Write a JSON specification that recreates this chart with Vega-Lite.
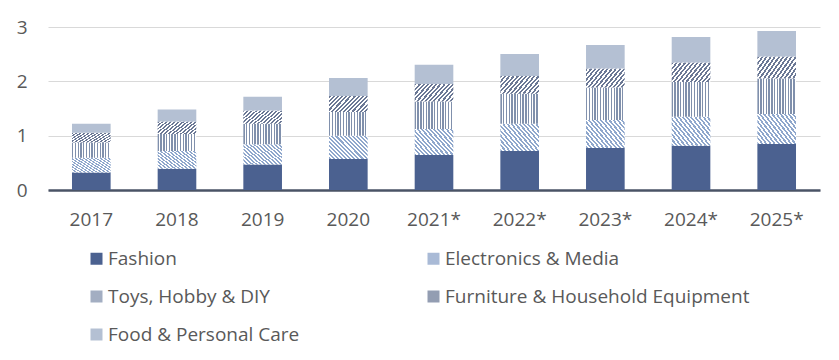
{
  "$schema": "https://vega.github.io/schema/vega-lite/v6.json",
  "autosize": {"type": "none"},
  "width": 772,
  "height": 163,
  "padding": {"left": 48, "top": 27, "right": 19, "bottom": 170},
  "background": "white",
  "config": {
    "view": {"stroke": null},
    "font": "Open Sans",
    "axis": {"labelFont": "Open Sans", "labelFontSize": 19, "labelColor": "#595959", "title": null},
    "legend": {"labelFont": "Open Sans"}
  },
  "datasets": {
    "stackorder": [
      {"category": "Fashion", "rank": 1},
      {"category": "Electronics & Media", "rank": 2},
      {"category": "Toys, Hobby & DIY", "rank": 3},
      {"category": "Furniture & Household Equipment", "rank": 4},
      {"category": "Food & Personal Care", "rank": 5}
    ]
  },
  "data": {
    "values": [
      {"year": "2017", "category": "Fashion", "value": 0.32},
      {"year": "2017", "category": "Electronics & Media", "value": 0.275},
      {"year": "2017", "category": "Toys, Hobby & DIY", "value": 0.28},
      {"year": "2017", "category": "Furniture & Household Equipment", "value": 0.18},
      {"year": "2017", "category": "Food & Personal Care", "value": 0.165},
      {"year": "2018", "category": "Fashion", "value": 0.39},
      {"year": "2018", "category": "Electronics & Media", "value": 0.33},
      {"year": "2018", "category": "Toys, Hobby & DIY", "value": 0.31},
      {"year": "2018", "category": "Furniture & Household Equipment", "value": 0.23},
      {"year": "2018", "category": "Food & Personal Care", "value": 0.22},
      {"year": "2019", "category": "Fashion", "value": 0.47},
      {"year": "2019", "category": "Electronics & Media", "value": 0.37},
      {"year": "2019", "category": "Toys, Hobby & DIY", "value": 0.38},
      {"year": "2019", "category": "Furniture & Household Equipment", "value": 0.245},
      {"year": "2019", "category": "Food & Personal Care", "value": 0.25},
      {"year": "2020", "category": "Fashion", "value": 0.57},
      {"year": "2020", "category": "Electronics & Media", "value": 0.43},
      {"year": "2020", "category": "Toys, Hobby & DIY", "value": 0.435},
      {"year": "2020", "category": "Furniture & Household Equipment", "value": 0.295},
      {"year": "2020", "category": "Food & Personal Care", "value": 0.33},
      {"year": "2021*", "category": "Fashion", "value": 0.645},
      {"year": "2021*", "category": "Electronics & Media", "value": 0.48},
      {"year": "2021*", "category": "Toys, Hobby & DIY", "value": 0.505},
      {"year": "2021*", "category": "Furniture & Household Equipment", "value": 0.32},
      {"year": "2021*", "category": "Food & Personal Care", "value": 0.355},
      {"year": "2022*", "category": "Fashion", "value": 0.72},
      {"year": "2022*", "category": "Electronics & Media", "value": 0.5},
      {"year": "2022*", "category": "Toys, Hobby & DIY", "value": 0.55},
      {"year": "2022*", "category": "Furniture & Household Equipment", "value": 0.33},
      {"year": "2022*", "category": "Food & Personal Care", "value": 0.405},
      {"year": "2023*", "category": "Fashion", "value": 0.775},
      {"year": "2023*", "category": "Electronics & Media", "value": 0.515},
      {"year": "2023*", "category": "Toys, Hobby & DIY", "value": 0.595},
      {"year": "2023*", "category": "Furniture & Household Equipment", "value": 0.35},
      {"year": "2023*", "category": "Food & Personal Care", "value": 0.435},
      {"year": "2024*", "category": "Fashion", "value": 0.815},
      {"year": "2024*", "category": "Electronics & Media", "value": 0.535},
      {"year": "2024*", "category": "Toys, Hobby & DIY", "value": 0.64},
      {"year": "2024*", "category": "Furniture & Household Equipment", "value": 0.355},
      {"year": "2024*", "category": "Food & Personal Care", "value": 0.47},
      {"year": "2025*", "category": "Fashion", "value": 0.845},
      {"year": "2025*", "category": "Electronics & Media", "value": 0.555},
      {"year": "2025*", "category": "Toys, Hobby & DIY", "value": 0.65},
      {"year": "2025*", "category": "Furniture & Household Equipment", "value": 0.405},
      {"year": "2025*", "category": "Food & Personal Care", "value": 0.47}
    ]
  },
  "transform": [
    {"lookup": "category", "from": {"data": {"name": "stackorder"}, "key": "category", "fields": ["rank"]}}
  ],
  "mark": {"type": "bar", "strokeWidth": 0},
  "encoding": {
    "x": {
      "field": "year",
      "type": "nominal",
      "sort": null,
      "scale": {"paddingInner": 0.549, "paddingOuter": 0.28},
      "axis": {"labelAngle": 0, "ticks": false, "domain": true, "domainColor": "#4a5366", "domainWidth": 2.5, "labelPadding": 20, "grid": false}
    },
    "y": {
      "field": "value",
      "type": "quantitative",
      "stack": "zero",
      "scale": {"domain": [0, 3], "nice": false},
      "axis": {"values": [0, 1, 2, 3], "ticks": false, "domain": false, "grid": true, "gridColor": "#d9d9d9", "gridWidth": 1, "labelPadding": 21}
    },
    "order": {"field": "rank", "type": "quantitative", "sort": "ascending"},
    "color": {
      "condition": [
        {"test": "datum.category === 'Electronics & Media'", "value": {"gradient": "linear", "x1": 0, "y1": 1, "x2": 1.176, "y2": 0.294, "stops": [
            {"offset": 0, "color": "#8fa7cc"}, {"offset": 0.0333, "color": "#8fa7cc"}, {"offset": 0.0333, "color": "#ffffff"}, {"offset": 0.0667, "color": "#ffffff"},
            {"offset": 0.0667, "color": "#8fa7cc"}, {"offset": 0.1, "color": "#8fa7cc"}, {"offset": 0.1, "color": "#ffffff"}, {"offset": 0.1333, "color": "#ffffff"},
            {"offset": 0.1333, "color": "#8fa7cc"}, {"offset": 0.1667, "color": "#8fa7cc"}, {"offset": 0.1667, "color": "#ffffff"}, {"offset": 0.2, "color": "#ffffff"},
            {"offset": 0.2, "color": "#8fa7cc"}, {"offset": 0.2333, "color": "#8fa7cc"}, {"offset": 0.2333, "color": "#ffffff"}, {"offset": 0.2667, "color": "#ffffff"},
            {"offset": 0.2667, "color": "#8fa7cc"}, {"offset": 0.3, "color": "#8fa7cc"}, {"offset": 0.3, "color": "#ffffff"}, {"offset": 0.3333, "color": "#ffffff"},
            {"offset": 0.3333, "color": "#8fa7cc"}, {"offset": 0.3667, "color": "#8fa7cc"}, {"offset": 0.3667, "color": "#ffffff"}, {"offset": 0.4, "color": "#ffffff"},
            {"offset": 0.4, "color": "#8fa7cc"}, {"offset": 0.4333, "color": "#8fa7cc"}, {"offset": 0.4333, "color": "#ffffff"}, {"offset": 0.4667, "color": "#ffffff"},
            {"offset": 0.4667, "color": "#8fa7cc"}, {"offset": 0.5, "color": "#8fa7cc"}, {"offset": 0.5, "color": "#ffffff"}, {"offset": 0.5333, "color": "#ffffff"},
            {"offset": 0.5333, "color": "#8fa7cc"}, {"offset": 0.5667, "color": "#8fa7cc"}, {"offset": 0.5667, "color": "#ffffff"}, {"offset": 0.6, "color": "#ffffff"},
            {"offset": 0.6, "color": "#8fa7cc"}, {"offset": 0.6333, "color": "#8fa7cc"}, {"offset": 0.6333, "color": "#ffffff"}, {"offset": 0.6667, "color": "#ffffff"},
            {"offset": 0.6667, "color": "#8fa7cc"}, {"offset": 0.7, "color": "#8fa7cc"}, {"offset": 0.7, "color": "#ffffff"}, {"offset": 0.7333, "color": "#ffffff"},
            {"offset": 0.7333, "color": "#8fa7cc"}, {"offset": 0.7667, "color": "#8fa7cc"}, {"offset": 0.7667, "color": "#ffffff"}, {"offset": 0.8, "color": "#ffffff"},
            {"offset": 0.8, "color": "#8fa7cc"}, {"offset": 0.8333, "color": "#8fa7cc"}, {"offset": 0.8333, "color": "#ffffff"}, {"offset": 0.8667, "color": "#ffffff"},
            {"offset": 0.8667, "color": "#8fa7cc"}, {"offset": 0.9, "color": "#8fa7cc"}, {"offset": 0.9, "color": "#ffffff"}, {"offset": 0.9333, "color": "#ffffff"},
            {"offset": 0.9333, "color": "#8fa7cc"}, {"offset": 0.9667, "color": "#8fa7cc"}, {"offset": 0.9667, "color": "#ffffff"}, {"offset": 1, "color": "#ffffff"}
          ]}},
        {"test": "datum.category === 'Toys, Hobby & DIY'", "value": {"gradient": "linear", "x1": 0, "y1": 0, "x2": 1, "y2": 0, "stops": [
            {"offset": 0, "color": "#8090ac"}, {"offset": 0.0357, "color": "#8090ac"}, {"offset": 0.0357, "color": "#ffffff"}, {"offset": 0.0714, "color": "#ffffff"},
            {"offset": 0.0714, "color": "#8090ac"}, {"offset": 0.1071, "color": "#8090ac"}, {"offset": 0.1071, "color": "#ffffff"}, {"offset": 0.1429, "color": "#ffffff"},
            {"offset": 0.1429, "color": "#8090ac"}, {"offset": 0.1786, "color": "#8090ac"}, {"offset": 0.1786, "color": "#ffffff"}, {"offset": 0.2143, "color": "#ffffff"},
            {"offset": 0.2143, "color": "#8090ac"}, {"offset": 0.25, "color": "#8090ac"}, {"offset": 0.25, "color": "#ffffff"}, {"offset": 0.2857, "color": "#ffffff"},
            {"offset": 0.2857, "color": "#8090ac"}, {"offset": 0.3214, "color": "#8090ac"}, {"offset": 0.3214, "color": "#ffffff"}, {"offset": 0.3571, "color": "#ffffff"},
            {"offset": 0.3571, "color": "#8090ac"}, {"offset": 0.3929, "color": "#8090ac"}, {"offset": 0.3929, "color": "#ffffff"}, {"offset": 0.4286, "color": "#ffffff"},
            {"offset": 0.4286, "color": "#8090ac"}, {"offset": 0.4643, "color": "#8090ac"}, {"offset": 0.4643, "color": "#ffffff"}, {"offset": 0.5, "color": "#ffffff"},
            {"offset": 0.5, "color": "#8090ac"}, {"offset": 0.5357, "color": "#8090ac"}, {"offset": 0.5357, "color": "#ffffff"}, {"offset": 0.5714, "color": "#ffffff"},
            {"offset": 0.5714, "color": "#8090ac"}, {"offset": 0.6071, "color": "#8090ac"}, {"offset": 0.6071, "color": "#ffffff"}, {"offset": 0.6429, "color": "#ffffff"},
            {"offset": 0.6429, "color": "#8090ac"}, {"offset": 0.6786, "color": "#8090ac"}, {"offset": 0.6786, "color": "#ffffff"}, {"offset": 0.7143, "color": "#ffffff"},
            {"offset": 0.7143, "color": "#8090ac"}, {"offset": 0.75, "color": "#8090ac"}, {"offset": 0.75, "color": "#ffffff"}, {"offset": 0.7857, "color": "#ffffff"},
            {"offset": 0.7857, "color": "#8090ac"}, {"offset": 0.8214, "color": "#8090ac"}, {"offset": 0.8214, "color": "#ffffff"}, {"offset": 0.8571, "color": "#ffffff"},
            {"offset": 0.8571, "color": "#8090ac"}, {"offset": 0.8929, "color": "#8090ac"}, {"offset": 0.8929, "color": "#ffffff"}, {"offset": 0.9286, "color": "#ffffff"},
            {"offset": 0.9286, "color": "#8090ac"}, {"offset": 0.9643, "color": "#8090ac"}, {"offset": 0.9643, "color": "#ffffff"}, {"offset": 1, "color": "#ffffff"}
          ]}},
        {"test": "datum.category === 'Furniture & Household Equipment'", "value": {"gradient": "linear", "x1": 0, "y1": 0, "x2": 1.207, "y2": 0.483, "stops": [
            {"offset": 0, "color": "#6b7895"}, {"offset": 0.0385, "color": "#6b7895"}, {"offset": 0.0385, "color": "#ffffff"}, {"offset": 0.0769, "color": "#ffffff"},
            {"offset": 0.0769, "color": "#6b7895"}, {"offset": 0.1154, "color": "#6b7895"}, {"offset": 0.1154, "color": "#ffffff"}, {"offset": 0.1538, "color": "#ffffff"},
            {"offset": 0.1538, "color": "#6b7895"}, {"offset": 0.1923, "color": "#6b7895"}, {"offset": 0.1923, "color": "#ffffff"}, {"offset": 0.2308, "color": "#ffffff"},
            {"offset": 0.2308, "color": "#6b7895"}, {"offset": 0.2692, "color": "#6b7895"}, {"offset": 0.2692, "color": "#ffffff"}, {"offset": 0.3077, "color": "#ffffff"},
            {"offset": 0.3077, "color": "#6b7895"}, {"offset": 0.3462, "color": "#6b7895"}, {"offset": 0.3462, "color": "#ffffff"}, {"offset": 0.3846, "color": "#ffffff"},
            {"offset": 0.3846, "color": "#6b7895"}, {"offset": 0.4231, "color": "#6b7895"}, {"offset": 0.4231, "color": "#ffffff"}, {"offset": 0.4615, "color": "#ffffff"},
            {"offset": 0.4615, "color": "#6b7895"}, {"offset": 0.5, "color": "#6b7895"}, {"offset": 0.5, "color": "#ffffff"}, {"offset": 0.5385, "color": "#ffffff"},
            {"offset": 0.5385, "color": "#6b7895"}, {"offset": 0.5769, "color": "#6b7895"}, {"offset": 0.5769, "color": "#ffffff"}, {"offset": 0.6154, "color": "#ffffff"},
            {"offset": 0.6154, "color": "#6b7895"}, {"offset": 0.6538, "color": "#6b7895"}, {"offset": 0.6538, "color": "#ffffff"}, {"offset": 0.6923, "color": "#ffffff"},
            {"offset": 0.6923, "color": "#6b7895"}, {"offset": 0.7308, "color": "#6b7895"}, {"offset": 0.7308, "color": "#ffffff"}, {"offset": 0.7692, "color": "#ffffff"},
            {"offset": 0.7692, "color": "#6b7895"}, {"offset": 0.8077, "color": "#6b7895"}, {"offset": 0.8077, "color": "#ffffff"}, {"offset": 0.8462, "color": "#ffffff"},
            {"offset": 0.8462, "color": "#6b7895"}, {"offset": 0.8846, "color": "#6b7895"}, {"offset": 0.8846, "color": "#ffffff"}, {"offset": 0.9231, "color": "#ffffff"},
            {"offset": 0.9231, "color": "#6b7895"}, {"offset": 0.9615, "color": "#6b7895"}, {"offset": 0.9615, "color": "#ffffff"}, {"offset": 1, "color": "#ffffff"}
          ]}}
      ],
      "field": "category",
      "type": "nominal",
      "sort": ["Fashion", "Electronics & Media", "Toys, Hobby & DIY", "Furniture & Household Equipment", "Food & Personal Care"],
      "scale": {
        "domain": ["Fashion", "Electronics & Media", "Toys, Hobby & DIY", "Furniture & Household Equipment", "Food & Personal Care"],
        "range": ["#4b6190", "#a9bad6", "#a3aec2", "#939db2", "#b4c0d3"]
      },
      "legend": {
        "orient": "none",
        "legendX": 39,
        "legendY": 222,
        "direction": "horizontal",
        "columns": 2,
        "title": null,
        "symbolType": "square",
        "symbolSize": 144,
        "symbolStrokeWidth": 0,
        "labelFontSize": 19,
        "labelColor": "#595959",
        "labelOffset": 2,
        "labelLimit": 400,
        "rowPadding": 18,
        "columnPadding": 124
      }
    }
  }
}
